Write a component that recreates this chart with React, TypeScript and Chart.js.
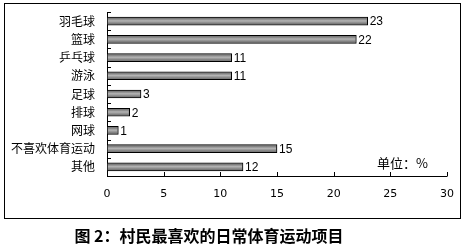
import React, { useEffect, useRef } from "react";
import { Chart, registerables } from "chart.js";
Chart.register(...registerables);

const categories = ["羽毛球", "篮球", "乒乓球", "游泳", "足球", "排球", "网球", "不喜欢体育运动", "其他"];
const values = [23, 22, 11, 11, 3, 2, 1, 15, 12];
const xTicks = [0, 5, 10, 15, 20, 25, 30];
const unitLabel = "单位：%";
const titleText = "图 2：村民最喜欢的日常体育运动项目";

const decor = {
  id: "decor",
  beforeDatasetsDraw(chart: any) {
    const ctx = chart.ctx;
    const ca = chart.chartArea;
    const x = chart.scales.x;
    ctx.save();
    ctx.strokeStyle = "#000";
    ctx.lineWidth = 1;
    ctx.strokeRect(4.5, 3.5, 456, 215);
    ctx.beginPath();
    ctx.moveTo(Math.round(ca.left) + 0.5, Math.round(ca.top));
    ctx.lineTo(Math.round(ca.left) + 0.5, Math.round(ca.bottom) + 0.5);
    ctx.lineTo(Math.round(ca.right) + 0.5, Math.round(ca.bottom) + 0.5);
    ctx.stroke();
    ctx.beginPath();
    for (const v of xTicks) {
      const px = Math.round(x.getPixelForValue(v)) + 0.5;
      ctx.moveTo(px, Math.round(ca.bottom));
      ctx.lineTo(px, Math.round(ca.bottom) - 4);
    }
    const n = categories.length;
    const step = (ca.bottom - ca.top) / n;
    for (let i = 0; i <= n; i++) {
      const py = Math.round(ca.top + i * step) + 0.5;
      ctx.moveTo(Math.round(ca.left), py);
      ctx.lineTo(Math.round(ca.left) + 4, py);
    }
    ctx.stroke();
    ctx.restore();
  },
  afterDatasetsDraw(chart: any) {
    const ctx = chart.ctx;
    const meta = chart.getDatasetMeta(0);
    ctx.save();
    meta.data.forEach((bar: any) => {
      const l = Math.min(bar.base, bar.x) + 1;
      const w = Math.abs(bar.x - bar.base) - 2;
      const top = bar.y - bar.height / 2 + 1;
      const h = bar.height - 2;
      if (w > 0) {
        const g = ctx.createLinearGradient(0, top, 0, top + h);
        g.addColorStop(0, "#6e6e6e");
        g.addColorStop(0.45, "#b4b4b4");
        g.addColorStop(1, "#707070");
        ctx.fillStyle = g;
        ctx.fillRect(l, top, w, h);
      }
    });
    ctx.fillStyle = "#000";
    ctx.font = "12px 'Liberation Sans', Arial, sans-serif";
    ctx.textAlign = "left";
    ctx.textBaseline = "middle";
    meta.data.forEach((bar: any, i: number) => {
      ctx.fillText(String(values[i]), bar.x + 2, bar.y + 1);
    });
    ctx.font = "13px 'Noto Sans CJK SC', sans-serif";
    ctx.fillText(unitLabel, 377, 163);
    ctx.font = "bold 16px 'Noto Sans CJK SC', serif";
    ctx.textAlign = "center";
    ctx.fillText(titleText, 209, 236);
    ctx.restore();
  },
};

export default function App() {
  const ref = useRef<HTMLCanvasElement>(null);
  useEffect(() => {
    const chart = new Chart(ref.current!, {
      type: "bar",
      data: {
        labels: categories,
        datasets: [
          {
            data: values,
            backgroundColor: "#8a8a8a",
            borderColor: "#000",
            borderWidth: 1,
            borderSkipped: false,
            barThickness: 8,
          },
        ],
      },
      options: {
        indexAxis: "y",
        animation: false,
        responsive: false,
        layout: { padding: { left: 0, top: 12, right: 18, bottom: 0 } },
        plugins: { legend: { display: false }, tooltip: { enabled: false }, title: { display: false } },
        scales: {
          x: {
            min: 0,
            max: 30,
            ticks: { stepSize: 5, padding: 12, color: "#000", font: { family: "'DejaVu Sans', sans-serif", size: 11 } },
            grid: { display: false, drawTicks: false },
            border: { display: false },
            afterFit: (s: any) => { s.height = 73; s.paddingLeft = 0; s.paddingRight = 0; },
          },
          y: {
            ticks: { padding: 12, color: "#000", font: { family: "'Noto Sans CJK SC', sans-serif", size: 12 } },
            grid: { display: false, drawTicks: false },
            border: { display: false },
            afterFit: (s: any) => { s.width = 107; s.paddingTop = 0; s.paddingBottom = 0; },
          },
        },
      },
      plugins: [decor],
    });
    return () => chart.destroy();
  }, []);
  return (
    <div style={{ position: "fixed", left: 0, top: 0, width: 465, height: 249, background: "#fff" }}>
      <canvas ref={ref} width={465} height={249} style={{ display: "block" }} />
    </div>
  );
}
